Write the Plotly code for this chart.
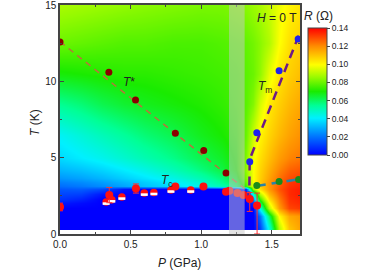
import plotly.graph_objects as go

# ---------------- data ----------------
# resistance map grid (P in GPa, T in K, R in Ohm)
grid_P = [0, 0.15, 0.3, 0.45, 0.6, 0.8, 1.0, 1.15, 1.25, 1.32, 1.37, 1.42, 1.48, 1.55, 1.62, 1.7]
grid_T = [0.3, 0.4, 1.2, 1.7, 2.0, 2.3, 2.6, 2.95, 3.15, 3.4, 3.7, 4.2, 5.0, 6.5, 8.5, 10.5, 12.5, 15]
grid_R = [
    [0, 0, 0, 0, 0, 0, 0, 0, 0, 0, 0, 0.012, 0.045, 0.090, 0.110, 0.116],
    [0, 0, 0, 0, 0, 0, 0, 0, 0, 0, 0, 0.012, 0.045, 0.090, 0.110, 0.116],
    [0, 0, 0, 0, 0, 0, 0, 0, 0, 0, 0, 0.020, 0.060, 0.100, 0.115, 0.118],
    [0, 0, 0, 0, 0, 0, 0, 0, 0, 0, 0, 0.045, 0.090, 0.117, 0.130, 0.132],
    [0.004, 0.002, 0, 0, 0, 0, 0, 0, 0, 0, 0.008, 0.060, 0.098, 0.120, 0.132, 0.134],
    [0.009, 0.006, 0, 0, 0, 0, 0, 0, 0, 0, 0.025, 0.075, 0.105, 0.122, 0.133, 0.135],
    [0.012, 0.011, 0.004, 0, 0, 0, 0, 0, 0, 0, 0.045, 0.090, 0.112, 0.125, 0.134, 0.136],
    [0.015, 0.016, 0.013, 0.003, 0, 0, 0, 0, 0, 0.010, 0.085, 0.105, 0.118, 0.128, 0.134, 0.136],
    [0.019, 0.021, 0.024, 0.028, 0.033, 0.037, 0.044, 0.051, 0.058, 0.075, 0.095, 0.108, 0.118, 0.127, 0.133, 0.135],
    [0.022, 0.024, 0.027, 0.031, 0.035, 0.040, 0.047, 0.055, 0.062, 0.080, 0.098, 0.109, 0.118, 0.126, 0.132, 0.134],
    [0.026, 0.028, 0.031, 0.035, 0.039, 0.044, 0.051, 0.058, 0.066, 0.083, 0.099, 0.108, 0.116, 0.124, 0.129, 0.131],
    [0.031, 0.033, 0.036, 0.040, 0.044, 0.050, 0.057, 0.063, 0.070, 0.085, 0.099, 0.107, 0.114, 0.121, 0.126, 0.128],
    [0.037, 0.040, 0.043, 0.047, 0.051, 0.056, 0.062, 0.066, 0.071, 0.083, 0.098, 0.105, 0.111, 0.117, 0.121, 0.123],
    [0.042, 0.046, 0.050, 0.054, 0.058, 0.062, 0.067, 0.070, 0.073, 0.080, 0.092, 0.101, 0.107, 0.112, 0.116, 0.119],
    [0.055, 0.058, 0.062, 0.065, 0.067, 0.069, 0.071, 0.073, 0.075, 0.078, 0.083, 0.094, 0.103, 0.108, 0.112, 0.115],
    [0.069, 0.070, 0.071, 0.072, 0.072, 0.073, 0.074, 0.075, 0.076, 0.078, 0.080, 0.085, 0.096, 0.104, 0.108, 0.111],
    [0.080, 0.079, 0.078, 0.077, 0.077, 0.076, 0.076, 0.077, 0.078, 0.079, 0.081, 0.084, 0.089, 0.099, 0.105, 0.108],
    [0.088, 0.087, 0.086, 0.085, 0.084, 0.083, 0.082, 0.082, 0.083, 0.084, 0.086, 0.088, 0.092, 0.097, 0.101, 0.104],
]

# T* points and guide line
tstar_P = [0, 0.346, 0.535, 0.817, 1.018, 1.176]
tstar_T = [12.58, 10.6, 8.78, 6.6, 5.47, 3.99]
tstar_line_P = [0, 1.31]
tstar_line_T = [12.6, 2.95]

# Tm points and guide line
tm_P = [1.344, 1.394, 1.552, 1.687]
tm_T = [4.73, 6.64, 10.7, 12.77]
tm_line_P = [1.340, 1.344, 1.70]
tm_line_T = [2.2, 4.9, 13.2]

# second transition (green) points and guide line
tg_P = [1.394, 1.552, 1.69]
tg_T = [3.18, 3.44, 3.57]
tg_line_P = [1.394, 1.70]
tg_line_T = [3.15, 3.6]

# Tc points (full red)
tc_P = [0, 0.349, 0.538, 0.817, 1.016, 1.176, 1.20, 1.257, 1.30, 1.344, 1.396]
tc_T = [1.77, 2.55, 2.98, 3.11, 3.11, 2.77, 2.83, 2.68, 2.55, 2.29, 1.87]
tc_err_up = [0.25, 0.5, 0.3, 0, 0, 0, 0, 0, 0, 0.43, 0.81]
tc_err_dn = [0.25, 0.5, 0.3, 0, 0, 0, 0, 0, 0, 0.81, 1.87]

# Tc points (half filled)
tch_P = [0.327, 0.367, 0.438, 0.597, 0.665, 0.786, 0.926]
tch_T = [2.09, 2.24, 2.42, 2.68, 2.72, 2.88, 2.88]

# shaded pressure band
band_P = [1.197, 1.308]

cb_ticks = [0.00, 0.02, 0.04, 0.06, 0.08, 0.10, 0.12, 0.14]

# ---------------- figure ----------------
FONT = "Liberation Sans, Arial, sans-serif"
colorscale = [
    [0.0, "rgb(0,0,255)"],
    [0.143, "rgb(0,115,255)"],
    [0.29, "rgb(0,240,255)"],
    [0.39, "rgb(0,255,150)"],
    [0.5, "rgb(25,235,0)"],
    [0.61, "rgb(150,250,0)"],
    [0.71, "rgb(255,255,0)"],
    [0.857, "rgb(255,140,0)"],
    [1.0, "rgb(255,0,0)"],
]

fig = go.Figure()
fig.add_trace(go.Heatmap(
    x=grid_P, y=grid_T, z=grid_R, zsmooth="best",
    colorscale=colorscale, zmin=0, zmax=0.14,
    colorbar=dict(
        x=1.033, xanchor="left", xpad=0, y=0.622, yanchor="middle", ypad=0,
        len=0.555, lenmode="fraction", thickness=19,
        outlinewidth=1, outlinecolor="#444",
        tickvals=cb_ticks, tickformat=".2f", ticks="outside", ticklen=3,
        tickcolor="#444", tickfont=dict(family=FONT, size=8.5, color="#222"),
    ),
    hoverinfo="skip",
))

# guide lines
fig.add_trace(go.Scatter(x=tstar_line_P, y=tstar_line_T, mode="lines",
                         line=dict(color="#b8733a", width=1.5, dash="6px,5px")))
fig.add_trace(go.Scatter(x=tm_line_P, y=tm_line_T, mode="lines",
                         line=dict(color="#6e1a86", width=2.5, dash="9px,6px")))
fig.add_trace(go.Scatter(x=tg_line_P, y=tg_line_T, mode="lines",
                         line=dict(color="#2a82a8", width=2.5, dash="9px,6px")))

# points
fig.add_trace(go.Scatter(x=tstar_P, y=tstar_T, mode="markers",
                         marker=dict(color="#8b0000", size=7)))
fig.add_trace(go.Scatter(x=tm_P, y=tm_T, mode="markers",
                         marker=dict(color="#1f22ee", size=7)))
fig.add_trace(go.Scatter(x=tg_P, y=tg_T, mode="markers",
                         marker=dict(color="#1a8a1a", size=7)))
fig.add_trace(go.Scatter(x=tch_P, y=tch_T, mode="markers",
                         marker=dict(color="#ff1010", size=7.5)))
fig.add_trace(go.Scatter(x=tch_P, y=[t - 0.1 for t in tch_T], mode="markers",
                         marker=dict(symbol="line-ew", size=5,
                                     line=dict(color="white", width=2.6))))
fig.add_trace(go.Scatter(x=tc_P, y=tc_T, mode="markers",
                         marker=dict(color="#ff1010", size=8),
                         error_y=dict(type="data", symmetric=False, array=tc_err_up,
                                      arrayminus=tc_err_dn, color="#ff3030",
                                      thickness=1, width=3)))

# shaded band (above the data)
fig.add_shape(type="rect", xref="x", yref="y", x0=band_P[0], x1=band_P[1], y0=0, y1=15,
              fillcolor="rgba(200,200,200,0.5)", line=dict(width=0), layer="above")

ann_font = dict(family=FONT, size=12, color="#222")
annotations = [
    dict(x=0.49, y=9.98, xref="x", yref="y", text="<i>T</i>*", showarrow=False, font=ann_font),
    dict(x=1.45, y=9.6, xref="x", yref="y", text="<i>T</i><sub>m</sub>", showarrow=False, font=ann_font),
    dict(x=0.76, y=3.5, xref="x", yref="y", text="<i>T</i><sub>c</sub>", showarrow=False, font=ann_font),
    dict(x=0.903, y=0.942, xref="paper", yref="paper", text="<i>H</i> = 0 T", showarrow=False,
         font=ann_font, xanchor="center", yanchor="middle"),
    dict(x=1.077, y=0.952, xref="paper", yref="paper", text="<i>R</i> (Ω)", showarrow=False,
         font=ann_font, xanchor="center", yanchor="middle"),
    dict(x=0.496, y=-0.127, xref="paper", yref="paper", text="<i>P</i> (GPa)", showarrow=False,
         font=ann_font, xanchor="center", yanchor="middle"),
    dict(x=-0.104, y=0.485, xref="paper", yref="paper", text="<i>T</i> (K)", showarrow=False,
         font=ann_font, textangle=-90, xanchor="center", yanchor="middle"),
]

axis_common = dict(showgrid=False, zeroline=False, showline=True, linecolor="#444", linewidth=1.5,
                   mirror="ticks", ticks="inside", ticklen=4, tickcolor="#444",
                   ticklabeloverflow="allow",
                   tickfont=dict(family=FONT, size=10, color="#222"))
fig.update_layout(
    width=389, height=275,
    margin=dict(l=60, r=89, t=5, b=41, autoexpand=False),
    paper_bgcolor="white", plot_bgcolor="white",
    showlegend=False,
    font=dict(family=FONT, color="#222"),
    xaxis=dict(range=[0, 1.7], tickvals=[0, 0.5, 1.0, 1.5], tickformat=".1f",
               minor=dict(dtick=0.25, ticks="inside", ticklen=2, tickcolor="#444"), **axis_common),
    yaxis=dict(range=[0, 15], tickvals=[0, 5, 10, 15],
               minor=dict(dtick=2.5, ticks="inside", ticklen=2, tickcolor="#444"), **axis_common),
    annotations=annotations,
)

fig.write_html("out.html", config={"displayModeBar": False},
               post_script="document.body.style.margin='0';document.body.style.overflow='hidden';")
